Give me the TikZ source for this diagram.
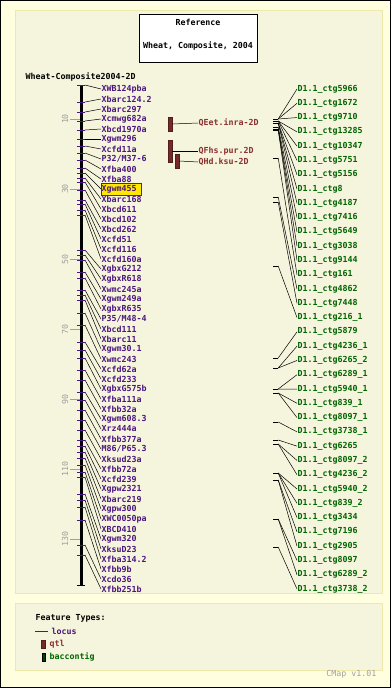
\documentclass[tikz,border=0pt]{standalone}
\usepackage{fontspec}
\setmonofont{DejaVu Sans Mono}
\usepackage{xcolor}
\usepackage{tikz}

\definecolor{outerbg}{HTML}{FFFFE0}
\definecolor{panelbg}{HTML}{F5F4DC}
\definecolor{panelrule}{HTML}{EEE8AA}
\definecolor{locuscol}{HTML}{4B1582}
\definecolor{qtlcol}{HTML}{8B3030}
\definecolor{ctgcol}{HTML}{006400}
\definecolor{scalecol}{HTML}{A0A0A0}

\begin{document}
\begin{tikzpicture}[x=1pt, y=-1pt,
    every node/.style={font=\fontsize{8.3}{10}\selectfont\ttfamily\bfseries, inner sep=0.5pt},
    panel/.style={fill=panelbg, draw=panelrule, line width=1pt},
    locuslbl/.style={anchor=west, text=locuscol},
    ctglbl/.style={anchor=west, text=ctgcol},
    qtllbl/.style={anchor=west, text=qtlcol},
    qtlbar/.style={rectangle, fill=qtlcol!85!black, draw=qtlcol!60!black, line width=0.5pt, minimum width=4pt, inner sep=0pt},
    ctgbox/.style={rectangle, fill=black, minimum width=5pt, minimum height=1pt, inner sep=0pt},
    hl/.style={fill=yellow!90!orange, draw=red!80!black, line width=0.8pt},
    link/.style={black, line width=0.5pt}]
    \useasboundingbox (0,0) rectangle (391,688);
    \draw[fill=outerbg, line width=1pt] (0.5,0.5) rectangle (390.5,687.5);
    \draw[panel] (15,10) rectangle (382,593);
    \draw[panel] (15,603) rectangle (382,670);

    % title
    \node[rectangle, draw, fill=white, minimum width=118pt, minimum height=48pt] (titlebox) at (198,38) {};
    \node (ref) at (198,22) {Reference};
    \node (mapset) at (198,46) {Wheat, Composite, 2004};
    \node[anchor=west] (maptitle) at (25,77) {Wheat-Composite2004-2D};

    % chromosome and scale
    \draw[line width=3pt] (81,85) -- (81,585);
    \draw[line width=1pt] (77,85) -- (85,85);
    \draw[line width=1pt] (77,585) -- (85,585);
    \foreach \cm in {10,30,...,130} {
        \draw[scalecol] (70,{84+3.5*\cm}) -- (80,{84+3.5*\cm});
        \node[text=scalecol, font=\fontsize{8.3}{10}\selectfont\ttfamily, rotate=90] (s\cm) at (65,{84+3.5*\cm}) {\cm};
    }

    % loci
    \draw[hl] (101,183.5) rectangle (141.5,195);
    \foreach \mk/\pos [count=\i] in {XWB124pba/85, Xbarc124.2/102, Xbarc297/112, Xcmwg682a/121,
        Xbcd1970a/130, Xgwm296/139, Xcfd11a/146, {P32/M37-6}/153, Xfba400/160, Xfba88/168,
        Xgwm455/173, Xbarc168/178, Xbcd611/182, Xbcd102/190, Xbcd262/200, Xcfd51/204,
        Xcfd116/210, Xcfd160a/215, XgbxG212/250, XgbxR618/255, Xwmc245a/260, Xgwm249a/272,
        XgbxR635/278, {P35/M48-4}/290, Xbcd111/295, Xbarc11/300, Xgwm30.1/313, Xwmc243/325,
        Xcfd62a/342, Xcfd233/350, XgbxG575b/358, Xfba111a/370, Xfbb32a/380, Xgwm608.3/392,
        Xrz444a/400, Xfbb377a/410, {M86/P65.3}/420, Xksud23a/430, Xfbb72a/440, Xcfd239/446,
        Xgpw2321/452, Xbarc219/458, Xgpw300/465, XWC0050pa/472, XBCD410/477, Xgwm320/494,
        XksuD23/500, Xfba314.2/507, Xfbb9b/520, Xcdo36/545, Xfbb251b/555} {
        \coordinate (m\i) at (85,\pos);
        \draw[locuscol, line width=0.8pt] (77,\pos) -- (m\i);
        \node[locuslbl] (l\i) at (101,{89+10*(\i-1)}) {\mk};
        \draw[link] (m\i) -- (l\i.west);
    }

    % qtl
    \node[qtlbar, minimum height=14pt] (q1) at (170,124) {};
    \node[qtlbar, minimum height=22pt] (q2) at (170,151) {};
    \node[qtlbar, minimum height=14pt] (q3) at (177,161) {};
    \node[qtllbl] (ql1) at (198,123) {QEet.inra-2D};
    \node[qtllbl] (ql2) at (198,151) {QFhs.pur.2D};
    \node[qtllbl] (ql3) at (198,162) {QHd.ksu-2D};
    \draw[link] (q1.east) -- (ql1.west);
    \draw[link] (q2.east) -- (ql2.west);
    \draw[link] (q3.east) -- (ql3.west);

    % bac contigs
    \foreach \ctg/\pos [count=\i] in {5966/119, 1672/119, 9710/119, 13285/121, 10347/121,
        5751/121, 5156/123, 8/123, 4187/123, 7416/127, 5649/129, 3038/129, 9144/130,
        161/158, 4862/197, 7448/202, 216\_1/266, 5879/358, 4236\_1/368, 6265\_2/368,
        6289\_1/389, 5940\_1/389, 839\_1/393, 8097\_1/393, 3738\_1/422, 6265/440,
        8097\_2/444, 4236\_2/444, 5940\_2/473, 839\_2/473, 3434/473, 7196/480, 2905/480,
        8097/519, 6289\_2/519, 3738\_2/547} {
        \node[ctgbox] (c\i) at (275.5,\pos) {};
        \node[ctglbl] (cl\i) at (297,{89+(\i-1)*14.2857}) {D1.1\_ctg\ctg};
        \draw[link] (c\i.east) -- (cl\i.west);
    }

    % legend
    \node[anchor=west] (legtitle) at (35,618) {Feature Types:};
    \coordinate (lockey) at (35,631);
    \node[locuslbl] (loclbl) at (51,631) {locus};
    \draw[locuscol, line width=0.8pt, shorten >=3pt] (lockey) -- (loclbl.west);
    \node[qtlbar, minimum height=8pt] (qtlkey) at (43.5,644) {};
    \node[qtllbl] (qtllbl) at (49,644) {qtl};
    \node[rectangle, minimum width=3pt, minimum height=8pt, inner sep=0pt, fill=ctgcol!70!black, draw=black, line width=0.5pt] (ctgkey) at (43.5,657) {};
    \node[ctglbl] (ctgkeylbl) at (49,657) {baccontig};
    \node[anchor=east, text=scalecol, font=\fontsize{8.3}{10}\selectfont\ttfamily] (version) at (377,674) {CMap v1.01};
\end{tikzpicture}
\end{document}
